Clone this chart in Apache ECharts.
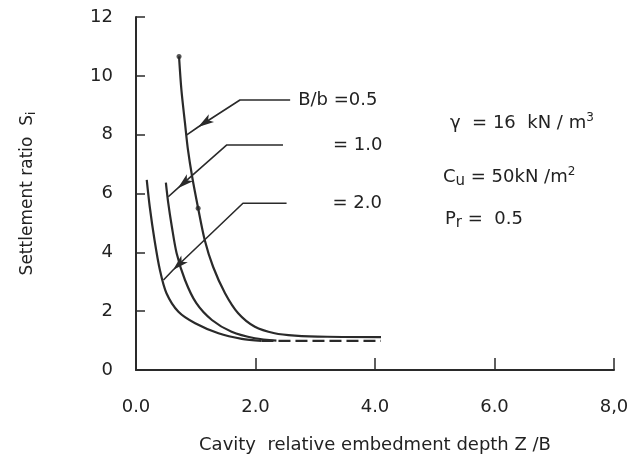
<!DOCTYPE html>
<html>
<head>
<meta charset="utf-8">
<script src="https://cdn.jsdelivr.net/npm/echarts@6/dist/echarts.min.js"></script>
<style>
html, body { margin: 0; background: #fff; }
#main { width: 633px; height: 471px; }
</style>
</head>
<body>
<div id="main"></div>
<script>
// values, [Z/B, Si]
const curveB05 = [[0.72, 10.66], [0.76, 9.52], [0.82, 8.39], [0.87, 7.48], [0.94, 6.57], [1.04, 5.5], [1.15, 4.42], [1.29, 3.51], [1.49, 2.61], [1.71, 1.93], [1.99, 1.47], [2.32, 1.25], [2.66, 1.17], [3.2, 1.13], [4.1, 1.12]];
const curveB10 = [[0.5, 6.37], [0.54, 5.67], [0.6, 4.87], [0.68, 3.97], [0.82, 3.06], [1.01, 2.27], [1.27, 1.7], [1.6, 1.3], [1.99, 1.08], [2.35, 1.0]];
const curveB20 = [[0.18, 6.46], [0.23, 5.55], [0.31, 4.42], [0.4, 3.4], [0.51, 2.61], [0.71, 1.98], [0.99, 1.59], [1.38, 1.25], [1.77, 1.06], [2.1, 0.99]];
const tailB20 = [[2.1, 0.99], [4.1, 0.99]];
const dotsB05 = [[0.72, 10.66], [1.04, 5.5]];

// leader lines: point on curve, arrow, knee, end
const leader05 = [[0.85, 7.99], [1.04, 8.26], [1.74, 9.18], [2.58, 9.18]];
const leader10 = [[0.54, 5.89], [0.7, 6.18], [1.52, 7.65], [2.46, 7.65]];
const leader20 = [[0.46, 3.06], [0.62, 3.4], [1.79, 5.67], [2.52, 5.67]];
const leaderLabels = ["B/b =0.5", "= 1.0", "= 2.0"];

const xTickLabels = ["0.0", "2.0", "4.0", "6.0", "8,0"];
const yTickLabels = ["0", "2", "4", "6", "8", "10", "12"];

const ink = "#222";
const font = "DejaVu Sans";

let myChart = echarts.init(document.getElementById("main"));

const curve = (name, data) => ({
	name: name,
	type: "line",
	data: data,
	smooth: 0.3,
	showSymbol: false,
	lineStyle: { color: "#2a2a2a", width: 2.2 },
	z: 3
});

const leader = (data, label, dist, rot) => ({
	type: "line",
	data: data.map((p, i) => i === 1
		? { value: p, symbol: "arrow", symbolSize: [7, 16], symbolRotate: rot }
		: { value: p, symbol: "none" }),
	showSymbol: true,
	itemStyle: { color: "#2a2a2a" },
	lineStyle: { color: "#2a2a2a", width: 1.6 },
	endLabel: { show: true, formatter: label, distance: dist, color: ink, fontFamily: font, fontSize: 18 },
	silent: true
});

let option = {
	backgroundColor: "#fff",
	animation: false,
	grid: { left: 136, right: 19, top: 17, bottom: 101 },
	xAxis: {
		type: "value",
		min: 0,
		max: 8,
		interval: 2,
		name: "Cavity  relative embedment depth Z /B",
		nameLocation: "middle",
		nameGap: 66,
		nameTextStyle: { color: ink, fontFamily: font, fontSize: 18 },
		axisLine: { lineStyle: { color: "#2a2a2a", width: 2 } },
		axisTick: { inside: true, length: 12, lineStyle: { color: "#2a2a2a", width: 1.5 } },
		axisLabel: {
			color: ink, fontFamily: font, fontSize: 18, margin: 28,
			formatter: v => xTickLabels[Math.round(v / 2)]
		},
		splitLine: { show: false }
	},
	yAxis: {
		type: "value",
		min: 0,
		max: 12,
		interval: 2,
		name: "Settlement ratio  S{sub|i}",
		nameLocation: "middle",
		nameGap: 98,
		nameTextStyle: {
			color: ink, fontFamily: font, fontSize: 17,
			rich: { sub: { fontFamily: font, fontSize: 12, color: ink, verticalAlign: "bottom", padding: [8, 0, 0, 0] } }
		},
		axisLine: { lineStyle: { color: "#2a2a2a", width: 2 } },
		axisTick: { inside: true, length: 9, lineStyle: { color: "#2a2a2a", width: 1.5 } },
		axisLabel: {
			color: ink, fontFamily: font, fontSize: 18, margin: 23,
			formatter: v => yTickLabels[Math.round(v / 2)]
		},
		splitLine: { show: false }
	},
	graphic: [
		{
			type: "text", left: 450, top: 112,
			style: {
				text: "\u03b3  = 16  kN / m{sup|3}",
				fill: ink, font: "18px " + font,
				rich: {
					sup: { fontFamily: font, fontSize: 12, fill: ink, verticalAlign: "top", padding: [0, 0, 10, 0] }
				}
			}
		},
		{
			type: "text", left: 443, top: 166,
			style: {
				text: "C{sub|u} = 50kN /m{sup|2}",
				fill: ink, font: "18px " + font,
				rich: {
					sub: { fontFamily: font, fontSize: 15, fill: ink, verticalAlign: "bottom", padding: [8, 0, 0, 0] },
					sup: { fontFamily: font, fontSize: 12, fill: ink, verticalAlign: "top", padding: [0, 0, 10, 0] }
				}
			}
		},
		{
			type: "text", left: 445, top: 210,
			style: {
				text: "P{sub|r} =  0.5",
				fill: ink, font: "18px " + font,
				rich: {
					sub: { fontFamily: font, fontSize: 15, fill: ink, verticalAlign: "bottom", padding: [8, 0, 0, 0] }
				}
			}
		}
	],
	series: [
		curve("B/b=0.5", curveB05),
		curve("B/b=1.0", curveB10),
		curve("B/b=2.0", curveB20),
		{
			type: "line",
			data: tailB20,
			showSymbol: false,
			lineStyle: { color: "#2a2a2a", width: 2.2, type: [12, 5] },
			z: 3
		},
		{
			type: "scatter",
			data: dotsB05,
			symbolSize: 5,
			itemStyle: { color: "#2a2a2a" },
			z: 4
		},
		leader(leader05, leaderLabels[0], 8, 124),
		leader(leader10, leaderLabels[1], 50, 131),
		leader(leader20, leaderLabels[2], 46, 134)
	]
};

myChart.setOption(option);
</script>
</body>
</html>
